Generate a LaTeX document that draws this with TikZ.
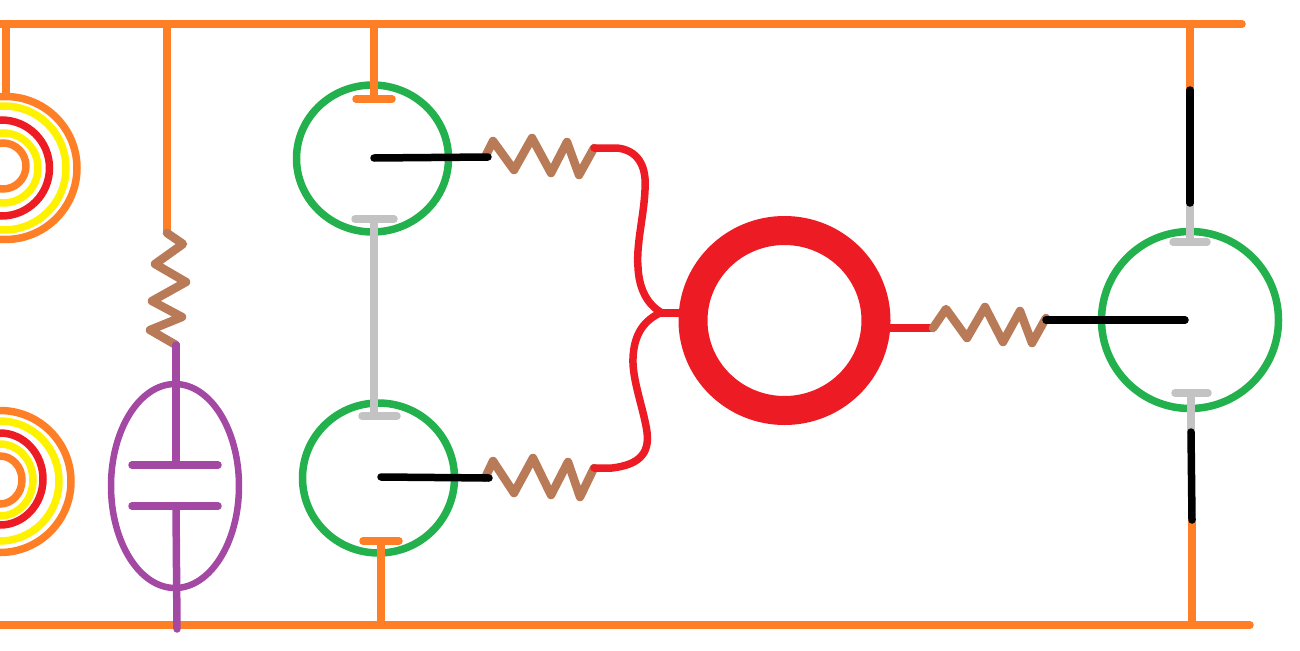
\documentclass[tikz,border=0pt]{standalone}
\usetikzlibrary{shapes.geometric}
\definecolor{cor}{HTML}{FF7F27}
\definecolor{cye}{HTML}{FFF200}
\definecolor{cre}{HTML}{ED1C24}
\definecolor{cgr}{HTML}{22B14C}
\definecolor{cbr}{HTML}{B97A57}
\definecolor{cpu}{HTML}{A349A4}
\definecolor{cgy}{HTML}{C3C3C3}
\tikzset{
  x=0.75pt,y=-0.75pt,
  wire/.style={line width=7.5*0.75pt,line cap=round,line join=round},
  orw/.style={wire,cor},
  blk/.style={wire,black},
  gry/.style={wire,cgy},
  rdw/.style={wire,cre},
  brn/.style={wire,cbr,line width=8.5*0.75pt},
  pur/.style={wire,cpu},
  tube/.style={ellipse,draw=cgr,line width=7.5*0.75pt,fill=none,inner sep=0pt},
  ring/.style={line width=7.5*0.75pt,draw},
}
\begin{document}
\begin{tikzpicture}
\path[use as bounding box] (0,0) rectangle (1300,650);
\clip (0,0) rectangle (1300,650);
% left coils
\draw[ring,cor] (5.5,168) ellipse (71.5 and 71.5);
\draw[ring,cye] (4,168) ellipse (62 and 62);
\draw[ring,cre] (1.5,168) ellipse (48 and 48);
\draw[ring,cye] (3,168) ellipse (35 and 35);
\draw[ring,cor] (3,166) ellipse (23 and 23);
\draw[ring,cor] (0,481.5) ellipse (71 and 71);
\draw[ring,cye] (0,481) ellipse (59 and 60);
\draw[ring,cre] (0,479) ellipse (43 and 46);
\draw[ring,cye] (0,480) ellipse (33 and 36);
\draw[ring,cor] (0,480) ellipse (22 and 24);
% tubes
\node[tube,minimum width=152*0.75pt,minimum height=147*0.75pt] (t1) at (372.5,158.5) {};
\node[tube,minimum width=152*0.75pt,minimum height=150*0.75pt] (t2) at (378.5,478) {};
\node[tube,minimum width=177*0.75pt,minimum height=177*0.75pt] (t3) at (1190,320) {};
\node[ellipse,draw=cre,line width=29*0.75pt,minimum width=183*0.75pt,minimum height=180*0.75pt,inner sep=0pt] (m) at (784.5,320.5) {};
% rails
\coordinate (tl) at (0,24); \coordinate (tr) at (1242,24);
\coordinate (bl) at (0,625); \coordinate (br) at (1250,625);
\draw[orw] (tl) -- (tr);
\draw[orw] (bl) -- (br);
% left feeds
\coordinate (a0) at (6,24); \coordinate (a1) at (6,95);
\draw[orw] (a0) -- (a1);
% resistor left
\coordinate (b0) at (167,24); \coordinate (b1) at (167,233);
\draw[orw] (b0) -- (b1);
\draw[brn] (b1) -- (183,244) -- (155,264) -- (186,282) -- (152,301) -- (182,317) -- (150,330) -- (176,345);
% capacitor
\node[ellipse,draw=cpu,line width=6.5*0.75pt,minimum width=128*0.75pt,minimum height=204*0.75pt,inner sep=0pt] (cap) at (175,486) {};
\coordinate (c0) at (176,345); \coordinate (c1) at (176,465);
\coordinate (c2) at (176,506); \coordinate (c3) at (177,629);
\coordinate (p1) at (132,465); \coordinate (p2) at (218,465);
\coordinate (p3) at (132,506); \coordinate (p4) at (218,506);
\draw[pur] (c0) -- (c1);
\draw[pur] (c2) -- (c3);
\draw[pur] (p1) -- (p2);
\draw[pur] (p3) -- (p4);
% tube 1
\coordinate (d0) at (374,24); \coordinate (d1) at (374,99);
\coordinate (d2) at (356,99); \coordinate (d3) at (392,99);
\draw[orw] (d0) -- (d1);
\draw[orw] (d2) -- (d3);
\coordinate (e1) at (374,158); \coordinate (e2) at (488,157);
\draw[brn] (485,157) -- (493,141) -- (514,170) -- (532,138) -- (551,173) -- (567,142) -- (579,175) -- (594,148);
\draw[blk] (e1) -- (e2);
% grey
\coordinate (f1) at (355,219); \coordinate (f2) at (394,219);
\coordinate (f3) at (374,219); \coordinate (f4) at (374,416);
\coordinate (f5) at (362,416); \coordinate (f6) at (397,416);
\draw[gry] (f1) -- (f2);
\draw[gry] (f3) -- (f4);
\draw[gry] (f5) -- (f6);
% tube 2
\coordinate (g1) at (381,477); \coordinate (g2) at (489,478);
\draw[brn] (485,478) -- (493,461) -- (514,493) -- (533,458) -- (551,495) -- (568,462) -- (580,497) -- (594,468);
\draw[blk] (g1) -- (g2);
\coordinate (h1) at (381,625); \coordinate (h2) at (381,541);
\coordinate (h3) at (363,541); \coordinate (h4) at (399,541);
\draw[orw] (h1) -- (h2);
\draw[orw] (h3) -- (h4);
% red fork
\coordinate (j) at (658,313);
\draw[rdw] (594,148) -- (617,148) .. controls (637,150) and (647,165) .. (645,190) .. controls (644,215) and (636,245) .. (638,267) .. controls (639,290) and (648,305) .. (662,313);
\draw[rdw] (594,468) -- (612,468) .. controls (637,465) and (650,455) .. (647,432) .. controls (644,410) and (632,380) .. (633,358) .. controls (634,335) and (643,322) .. (658,314);
\draw[rdw] (j) -- (680,313);
% output
\coordinate (k1) at (890,328); \coordinate (k2) at (933,328);
\draw[rdw] (k1) -- (k2);
\draw[brn] (k2) -- (946,309) -- (967,338) -- (985,307) -- (1003,342) -- (1020,311) -- (1032,343) -- (1046,318);
\coordinate (k3) at (1046,320); \coordinate (k4) at (1185,320);
\draw[blk] (k3) -- (k4);
% right tube
\coordinate (n0) at (1190,24); \coordinate (n1) at (1190,90);
\coordinate (n2) at (1190,203); \coordinate (n3) at (1190,242);
\coordinate (n4) at (1173,242); \coordinate (n5) at (1207,242);
\draw[orw] (n0) -- (n1);
\draw[gry] (n2) -- (n3);
\draw[blk] (n1) -- (n2);
\draw[gry] (n4) -- (n5);
\coordinate (q1) at (1175,393); \coordinate (q2) at (1208,393);
\coordinate (q3) at (1191,393); \coordinate (q4) at (1191,432);
\coordinate (q5) at (1192,520); \coordinate (q6) at (1192,625);
\draw[gry] (q1) -- (q2);
\draw[gry] (q3) -- (q4);
\draw[orw] (q5) -- (q6);
\draw[blk] (q4) -- (q5);
\end{tikzpicture}
\end{document}
